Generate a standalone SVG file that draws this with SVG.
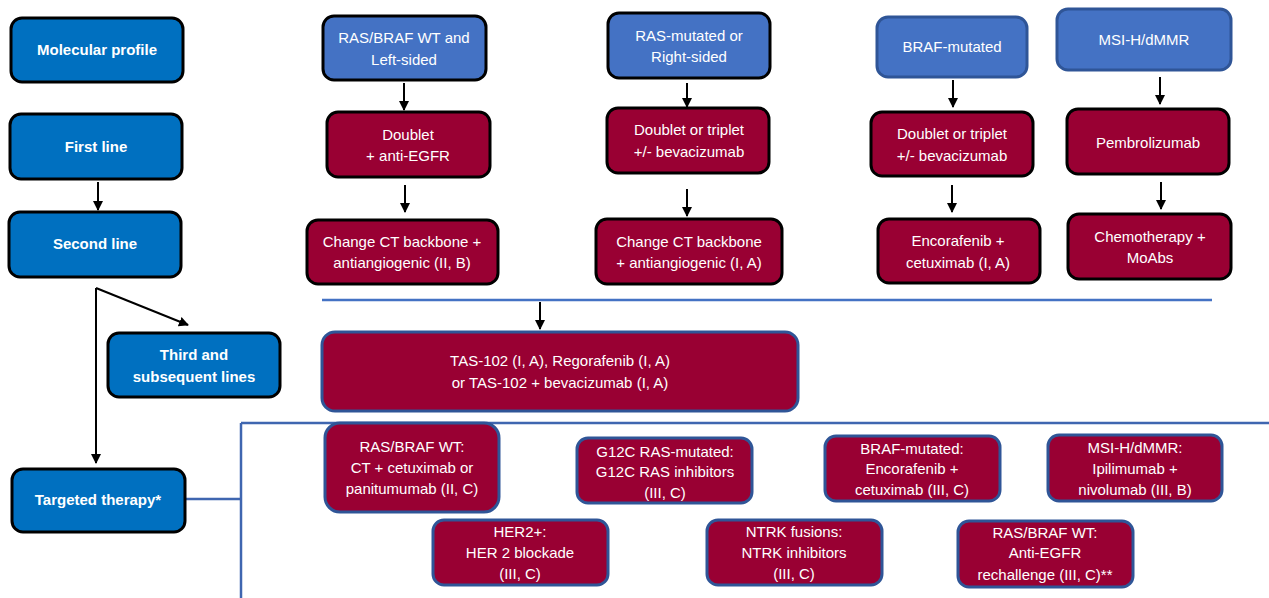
<svg xmlns="http://www.w3.org/2000/svg" width="1269" height="598" viewBox="0 0 1269 598">
<defs>
<style>
.lb{fill:#0070C0;stroke:#000;stroke-width:3}
.tb{fill:#4472C4;stroke:#000;stroke-width:3}
.tbb{fill:#4472C4;stroke:#2F5597;stroke-width:3}
.rb{fill:#990033;stroke:#000;stroke-width:3}
.rbb{fill:#990033;stroke:#2F5597;stroke-width:3}
text{font-family:"Liberation Sans",Arial,sans-serif;fill:#fff;text-anchor:middle}
.bt{font-weight:bold;font-size:15px}
.nt{font-size:15px}
.ar{stroke:#000;stroke-width:2;fill:none;marker-end:url(#ah)}
.bl{stroke:#3F66B0;stroke-width:2.5;fill:none}
</style>
<marker id="ah" viewBox="0 0 10 10" refX="9" refY="5" markerWidth="5" markerHeight="5" orient="auto" markerUnits="strokeWidth">
<path d="M0,0 L10,5 L0,10 Z" fill="#000"/>
</marker>
</defs>
<rect width="1269" height="598" fill="#fff"/>

<g id="connectors">
<line class="ar" x1="98" y1="182" x2="98" y2="210"/>
<line class="ar" x1="96" y1="288" x2="96" y2="463"/>
<line class="ar" x1="96" y1="288" x2="188" y2="325"/>
<line class="ar" x1="404" y1="83" x2="404" y2="110"/>
<line class="ar" x1="405" y1="185" x2="405" y2="212"/>
<line class="ar" x1="687" y1="83" x2="687" y2="107"/>
<line class="ar" x1="687" y1="189" x2="687" y2="216"/>
<line class="ar" x1="953" y1="80" x2="953" y2="107"/>
<line class="ar" x1="952" y1="185" x2="952" y2="212"/>
<line class="ar" x1="1160" y1="77" x2="1160" y2="104"/>
<line class="ar" x1="1161" y1="182" x2="1161" y2="209"/>
<line class="ar" x1="540" y1="302" x2="540" y2="329"/>
<line class="bl" x1="322" y1="300" x2="1212" y2="300" style="stroke:#4472C4"/>
<line class="bl" x1="185" y1="499" x2="241" y2="499"/>
<line class="bl" x1="241" y1="423" x2="241" y2="598"/>
<line class="bl" x1="241" y1="423" x2="1269" y2="423"/>
</g>

<g id="molecular-profile"><rect class="lb" x="11" y="18" width="172" height="64" rx="11"/><text class="bt" x="97" y="55">Molecular profile</text></g>
<g id="first-line"><rect class="lb" x="10" y="114" width="172" height="65" rx="11"/><text class="bt" x="96" y="152">First line</text></g>
<g id="second-line"><rect class="lb" x="9" y="212" width="172" height="65" rx="11"/><text class="bt" x="95" y="249">Second line</text></g>
<g id="third-lines"><rect class="lb" x="108" y="333" width="172" height="64" rx="11"/><text class="bt" x="194" y="360">Third and</text><text class="bt" x="194" y="382">subsequent lines</text></g>
<g id="targeted-therapy"><rect class="lb" x="12" y="469" width="173" height="63" rx="11"/><text class="bt" x="98" y="505">Targeted therapy*</text></g>

<g id="ras-wt-left"><rect class="tb" x="323" y="16" width="163" height="64" rx="11"/><text class="nt" x="404" y="43">RAS/BRAF WT and</text><text class="nt" x="404" y="65">Left-sided</text></g>
<g id="doublet-egfr"><rect class="rb" x="327" y="112" width="163" height="65" rx="11"/><text class="nt" x="408" y="140">Doublet</text><text class="nt" x="408" y="161">+ anti-EGFR</text></g>
<g id="change-ct-1"><rect class="rb" x="307" y="220" width="191" height="64" rx="11"/><text class="nt" x="402" y="247">Change CT backbone +</text><text class="nt" x="402" y="268">antiangiogenic (II, B)</text></g>

<g id="ras-mut-right"><rect class="tb" x="608" y="13" width="162" height="65" rx="11"/><text class="nt" x="689" y="41">RAS-mutated or</text><text class="nt" x="689" y="62">Right-sided</text></g>
<g id="doublet-triplet-1"><rect class="rb" x="607" y="108" width="162" height="65" rx="11"/><text class="nt" x="689" y="135">Doublet or triplet</text><text class="nt" x="689" y="157">+/- bevacizumab</text></g>
<g id="change-ct-2"><rect class="rb" x="596" y="219" width="186" height="65" rx="11"/><text class="nt" x="689" y="247">Change CT backbone</text><text class="nt" x="689" y="268">+ antiangiogenic (I, A)</text></g>

<g id="braf-mut"><rect class="tbb" x="877" y="17" width="150" height="60" rx="11"/><text class="nt" x="952" y="52">BRAF-mutated</text></g>
<g id="doublet-triplet-2"><rect class="rb" x="871" y="112" width="162" height="64" rx="11"/><text class="nt" x="952" y="139">Doublet or triplet</text><text class="nt" x="952" y="161">+/- bevacizumab</text></g>
<g id="encorafenib-1"><rect class="rb" x="878" y="219" width="162" height="64" rx="11"/><text class="nt" x="958" y="246">Encorafenib +</text><text class="nt" x="958" y="268">cetuximab (I, A)</text></g>

<g id="msi-h"><rect class="tbb" x="1057" y="9" width="174" height="61" rx="11"/><text class="nt" x="1144" y="45">MSI-H/dMMR</text></g>
<g id="pembrolizumab"><rect class="rb" x="1067" y="109" width="162" height="65" rx="11"/><text class="nt" x="1148" y="148">Pembrolizumab</text></g>
<g id="chemo-moabs"><rect class="rb" x="1068" y="214" width="163" height="65" rx="11"/><text class="nt" x="1150" y="242">Chemotherapy +</text><text class="nt" x="1150" y="263">MoAbs</text></g>

<g id="tas-102"><rect class="rbb" x="322" y="332" width="476" height="79" rx="13"/><text class="nt" x="560" y="366">TAS-102 (I, A), Regorafenib (I, A)</text><text class="nt" x="560" y="388">or TAS-102 + bevacizumab (I, A)</text></g>

<g id="t-ras-wt"><rect class="rbb" x="325" y="423" width="174" height="89" rx="15"/><text class="nt" x="412" y="452">RAS/BRAF WT:</text><text class="nt" x="412" y="473">CT + cetuximab or</text><text class="nt" x="412" y="494">panitumumab (II, C)</text></g>
<g id="t-g12c"><rect class="rbb" x="577" y="438" width="175" height="65" rx="11"/><text class="nt" x="665" y="457">G12C RAS-mutated:</text><text class="nt" x="665" y="477">G12C RAS inhibitors</text><text class="nt" x="665" y="498">(III, C)</text></g>
<g id="t-braf"><rect class="rbb" x="825" y="436" width="175" height="65" rx="11"/><text class="nt" x="912" y="454">BRAF-mutated:</text><text class="nt" x="912" y="474">Encorafenib +</text><text class="nt" x="912" y="495">cetuximab (III, C)</text></g>
<g id="t-msi"><rect class="rbb" x="1048" y="435" width="174" height="66" rx="11"/><text class="nt" x="1135" y="453">MSI-H/dMMR:</text><text class="nt" x="1135" y="474">Ipilimumab +</text><text class="nt" x="1135" y="495">nivolumab (III, B)</text></g>
<g id="t-her2"><rect class="rbb" x="433" y="520" width="175" height="65" rx="11"/><text class="nt" x="520" y="537">HER2+:</text><text class="nt" x="520" y="558">HER 2 blockade</text><text class="nt" x="520" y="579">(III, C)</text></g>
<g id="t-ntrk"><rect class="rbb" x="707" y="520" width="175" height="65" rx="11"/><text class="nt" x="794" y="537">NTRK fusions:</text><text class="nt" x="794" y="558">NTRK inhibitors</text><text class="nt" x="794" y="579">(III, C)</text></g>
<g id="t-rechallenge"><rect class="rbb" x="958" y="521" width="175" height="66" rx="11"/><text class="nt" x="1045" y="538">RAS/BRAF WT:</text><text class="nt" x="1045" y="558">Anti-EGFR</text><text class="nt" x="1045" y="580">rechallenge (III, C)**</text></g>
</svg>
